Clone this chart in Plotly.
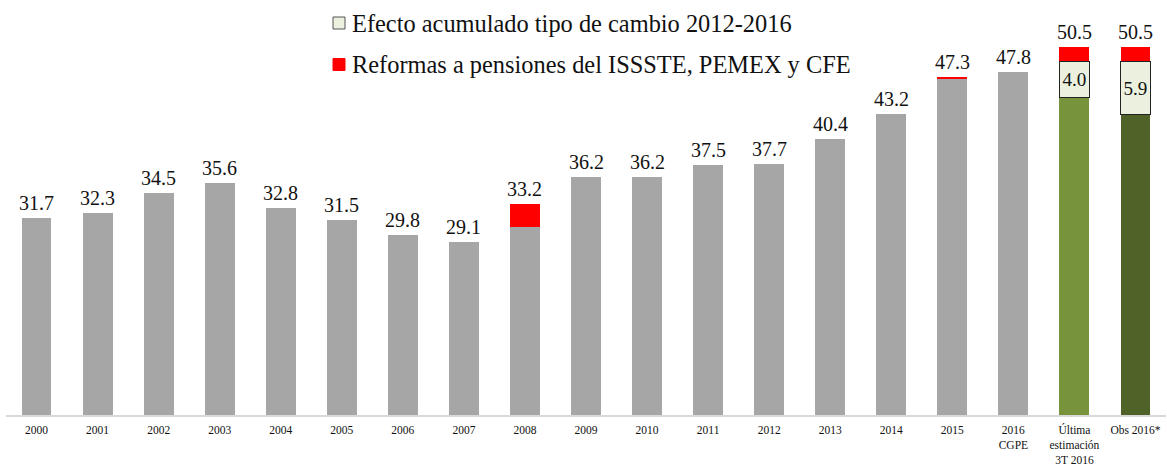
import plotly.graph_objects as go

categories = ["2000", "2001", "2002", "2003", "2004", "2005", "2006", "2007", "2008",
              "2009", "2010", "2011", "2012", "2013", "2014", "2015",
              "2016<br>CGPE", "Última<br>estimación<br>3T 2016", "Obs 2016*"]
totals = [31.7, 32.3, 34.5, 35.6, 32.8, 31.5, 29.8, 29.1, 33.2,
          36.2, 36.2, 37.5, 37.7, 40.4, 43.2, 47.3, 47.8, 50.5, 50.5]
base_vals = [31.7, 32.3, 34.5, 35.6, 32.8, 31.5, 29.8, 29.1, 30.7,
             36.2, 36.2, 37.5, 37.7, 40.4, 43.2, 47.0, 47.8, 45.0, 43.1]
efecto_vals = [None] * 17 + [4.0, 5.9]
reformas_vals = [None] * 8 + [2.5] + [None] * 6 + [0.3, None, 1.5, 1.5]

legend_labels = ["Efecto acumulado tipo de cambio 2012-2016",
                 "Reformas a pensiones del ISSSTE, PEMEX y CFE"]

GRAY = "#a6a6a6"
base_colors = [GRAY] * 17 + ["#77933c", "#4f6228"]
EFECTO_FILL = "#ebf1de"
RED = "#ff0000"
SERIF = "Liberation Serif, Times New Roman, serif"

fig = go.Figure()
fig.add_trace(go.Bar(x=categories, y=base_vals, marker=dict(color=base_colors, line=dict(width=0)),
                     showlegend=False, hoverinfo="y"))
fig.add_trace(go.Bar(x=categories, y=efecto_vals, name=legend_labels[0],
                     marker=dict(color=EFECTO_FILL, line=dict(color="#222222", width=1)),
                     text=[None if v is None else f"{v:.1f}" for v in efecto_vals],
                     textposition="inside", insidetextanchor="middle", textangle=0,
                     textfont=dict(family=SERIF, size=20, color="#111111"),
                     showlegend=False))
fig.add_trace(go.Bar(x=categories, y=reformas_vals, name=legend_labels[1],
                     marker=dict(color=RED, line=dict(width=0)), showlegend=False))

# total value labels (category index positions)
for i, t in enumerate(totals):
    fig.add_annotation(x=i, y=t, text=f"{t:.1f}", showarrow=False, yanchor="bottom",
                       yshift=2, font=dict(family=SERIF, size=20, color="#111111"))

# legend drawn with shapes + text
leg_rows = [(23, EFECTO_FILL, "#555555"), (64.5, RED, RED)]
for (yc, fill, line), label in zip(leg_rows, legend_labels):
    fig.add_shape(type="rect", xref="paper", yref="paper",
                  x0=(333 - 6) / 1160, x1=(345 - 6) / 1160,
                  y0=(415 - (yc + 6)) / 405, y1=(415 - (yc - 6)) / 405,
                  fillcolor=fill, line=dict(color=line, width=1))
    fig.add_annotation(xref="paper", yref="paper", x=(350 - 6) / 1160,
                       y=(415 - yc) / 405, text=label, showarrow=False,
                       xanchor="left", yanchor="middle",
                       font=dict(family=SERIF, size=24.4, color="#111111"))

fig.update_layout(
    barmode="stack", bargap=0.51,
    width=1167, height=468,
    margin=dict(l=6, r=1, t=10, b=53),
    plot_bgcolor="white", paper_bgcolor="white",
    xaxis=dict(type="category", range=[-0.5, 18.5], showgrid=False, showline=True,
               linecolor="#d9d9d9", linewidth=2, automargin=False,
               ticks="", tickfont=dict(family=SERIF, size=11.5, color="#111111"),
               ticklabelstandoff=3),
    yaxis=dict(range=[10, 54.63], visible=False, showgrid=False, automargin=False),
)
fig.write_html("out.html", config={"displayModeBar": False},
               post_script="document.body.style.margin='0';document.body.style.overflow='hidden';")
